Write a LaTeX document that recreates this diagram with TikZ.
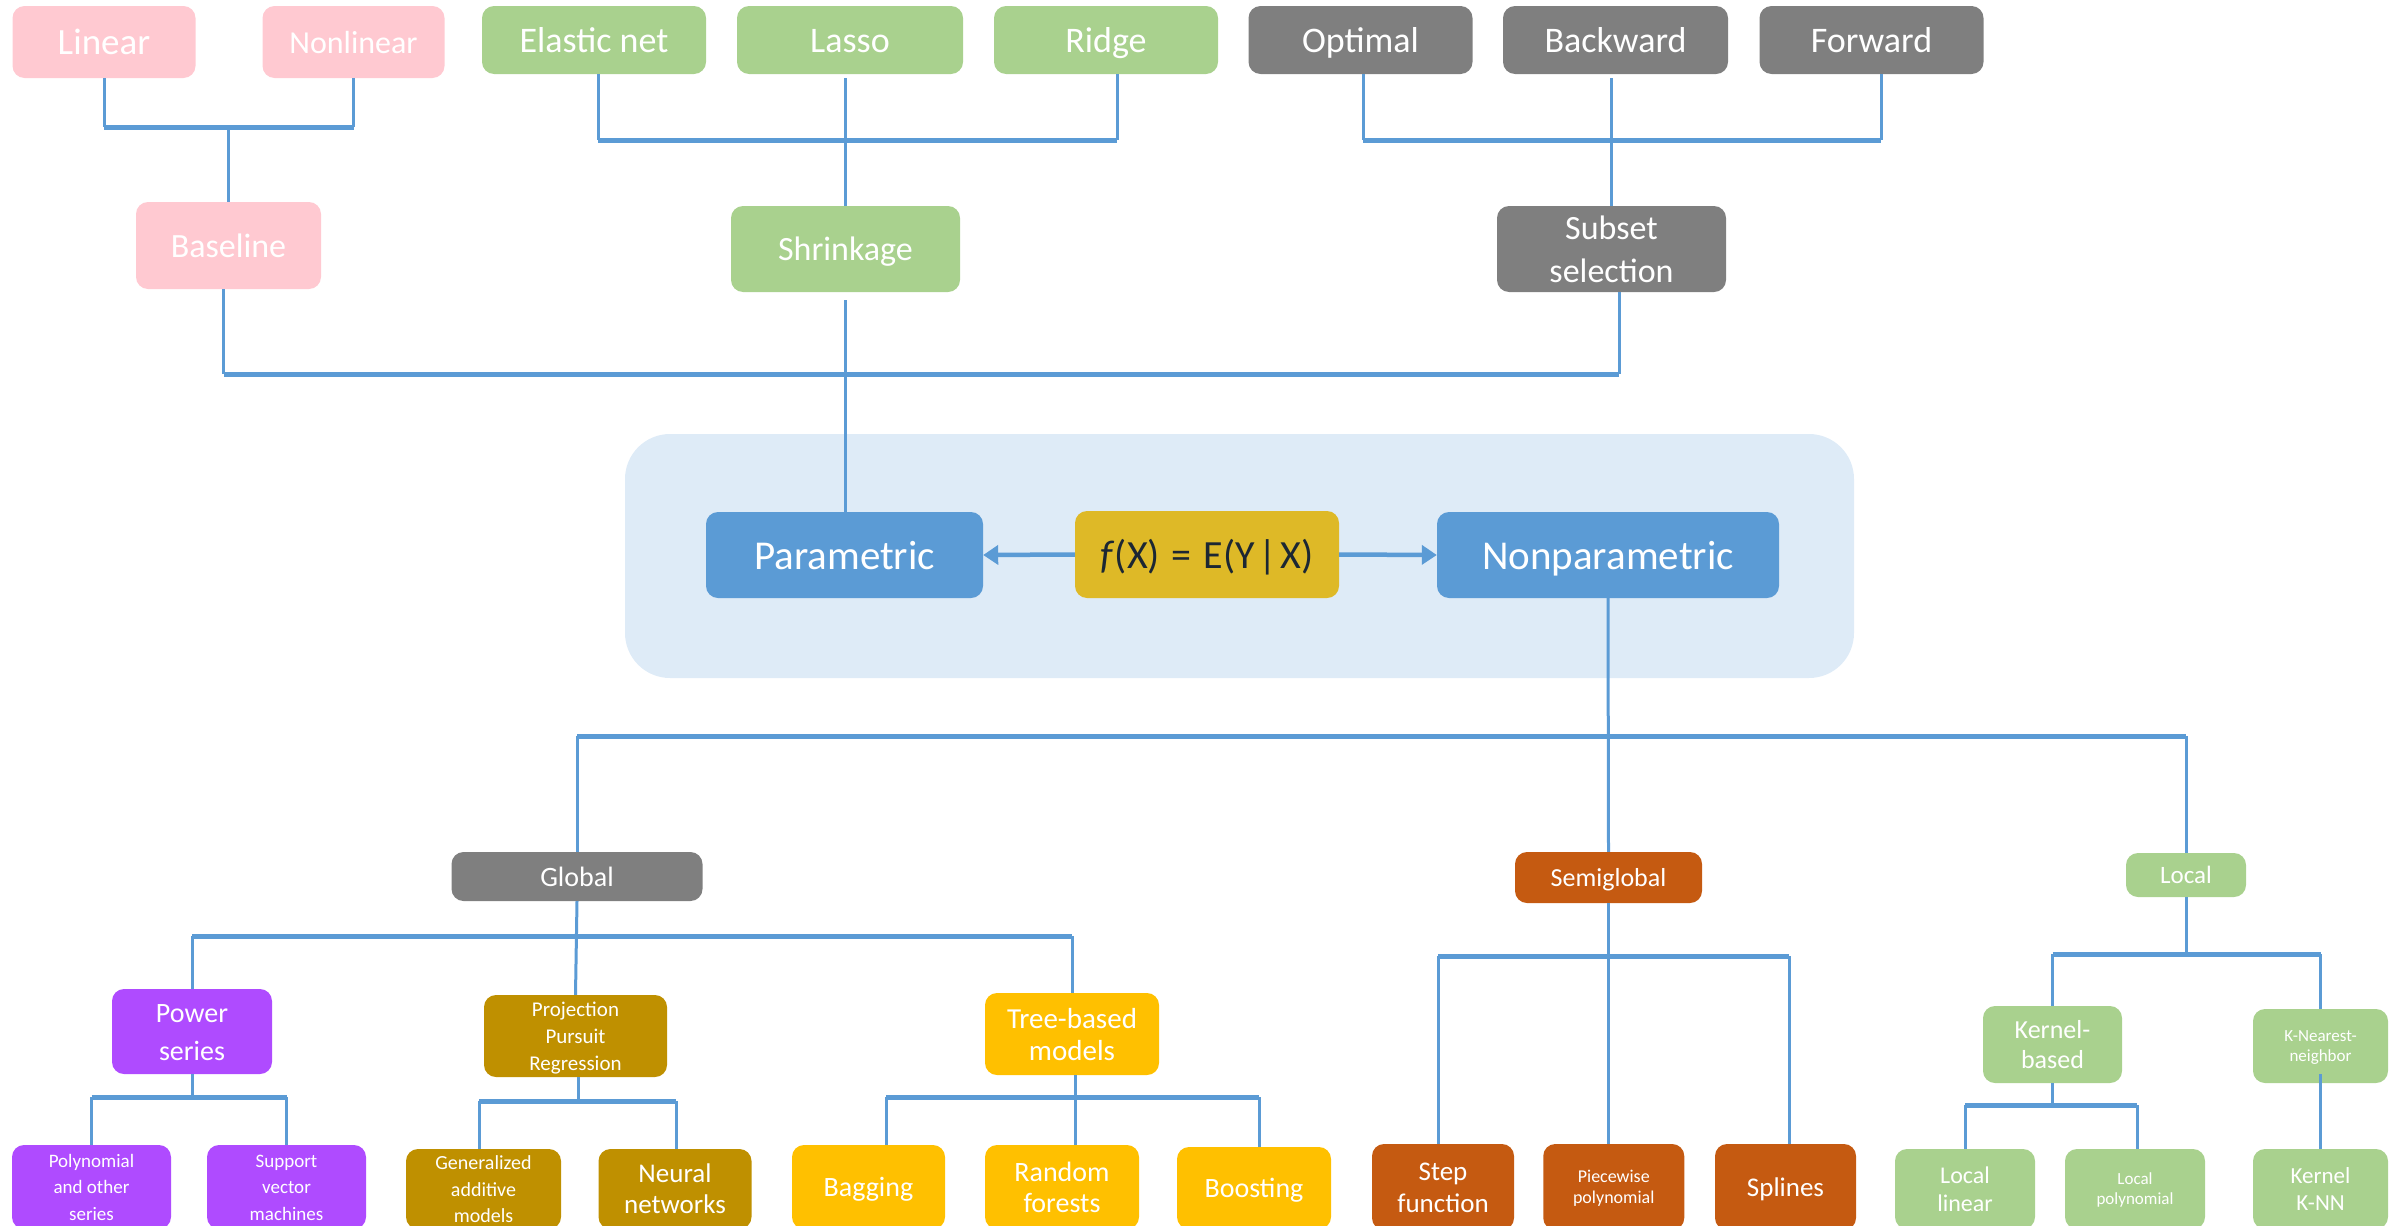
\documentclass[tikz,border=0pt]{standalone}
\usepackage{fontspec}
\setmainfont{Carlito}
\usetikzlibrary{arrows.meta}
\definecolor{pinkc}{HTML}{FFC9D1}
\definecolor{greenc}{HTML}{A9D18E}
\definecolor{grayc}{HTML}{7F7F7F}
\definecolor{bluec}{HTML}{5B9BD5}
\definecolor{lineblue}{HTML}{5B9BD5}
\definecolor{bgc}{HTML}{DEEBF7}
\definecolor{fxc}{HTML}{DEB927}
\definecolor{orangec}{HTML}{C55A11}
\definecolor{dgoldc}{HTML}{BF9000}
\definecolor{yellowc}{HTML}{FFC000}
\definecolor{purplec}{HTML}{AF4BFF}
\definecolor{darktext}{HTML}{1C2733}
\newcommand\myhs{\rule{0pt}{0.95em}}
\newcommand\myds{\rule[-0.25em]{0pt}{0.25em}}
\tikzset{
  nbox/.style={rectangle, rounded corners=12pt, inner sep=0pt, align=center, text=white, fill=#1,
    execute at begin node=\myhs, execute at end node=\myds},
  vline/.style={draw=lineblue, line width=3pt},
  hline/.style={draw=lineblue, line width=5pt},
  arr/.style={draw=lineblue, line width=4.5pt, -{Triangle[length=15pt,width=19pt]}},
}
\begin{document}
\begin{tikzpicture}[x=1pt,y=-1pt]
\useasboundingbox (0,0) rectangle (2402,1226);
\begin{scope}
\clip (0,0) rectangle (2402,1226);
% background panel
\fill[bgc, rounded corners=45pt] (625,434) rectangle (1854,678);

% top row
\node[nbox=pinkc, minimum width=183pt, minimum height=72pt, font=\fontsize{37}{44}\selectfont] (lin) at (104,42) {Linear};
\node[nbox=pinkc, minimum width=182pt, minimum height=72pt, font=\fontsize{32}{40}\selectfont] (nonlin) at (353.5,42) {Nonlinear};
\node[nbox=greenc, minimum width=224pt, minimum height=68pt, font=\fontsize{36}{44}\selectfont] (elastic) at (594,40) {Elastic net};
\node[nbox=greenc, minimum width=226pt, minimum height=68pt, font=\fontsize{36}{44}\selectfont] (lasso) at (850,40) {Lasso};
\node[nbox=greenc, minimum width=224pt, minimum height=68pt, font=\fontsize{36}{44}\selectfont] (ridge) at (1106,40) {Ridge};
\node[nbox=grayc, minimum width=224pt, minimum height=68pt, font=\fontsize{36}{44}\selectfont] (optimal) at (1360.5,40) {Optimal};
\node[nbox=grayc, minimum width=225pt, minimum height=68pt, font=\fontsize{36}{44}\selectfont] (backward) at (1615.5,40) {Backward};
\node[nbox=grayc, minimum width=224pt, minimum height=68pt, font=\fontsize{36}{44}\selectfont] (forward) at (1871.5,40) {Forward};

% second row
\node[nbox=pinkc, minimum width=185pt, minimum height=87pt, font=\fontsize{34}{42}\selectfont] (base) at (228.5,245.5) {Baseline};
\node[nbox=greenc, minimum width=229pt, minimum height=86pt, font=\fontsize{34}{42}\selectfont] (shrink) at (845.5,249) {Shrinkage};
\node[nbox=grayc, minimum width=229pt, minimum height=86pt, font=\fontsize{34}{43}\selectfont] (subset) at (1611.5,249) {\myhs Subset\\selection};

% central row
\node[nbox=bluec, minimum width=277pt, minimum height=86pt, font=\fontsize{41}{48}\selectfont] (param) at (844.5,555) {Parametric};
\node[nbox=fxc, text=darktext, minimum width=264pt, minimum height=87pt, font=\fontsize{40}{48}\selectfont] (fx) at (1207,554.5) {\textit{f}(X)\hspace{12pt}=\hspace{12pt}E(Y\hspace{4pt}|\hspace{3pt}X)};
\node[nbox=bluec, minimum width=342pt, minimum height=86pt, font=\fontsize{41}{48}\selectfont] (nonparam) at (1608,555) {Nonparametric};

% level 1
\node[nbox=grayc, minimum width=251pt, minimum height=49pt, font=\fontsize{28}{34}\selectfont] (global) at (577,876.5) {Global};
\node[nbox=orangec, minimum width=187pt, minimum height=51pt, font=\fontsize{26}{32}\selectfont] (semi) at (1608.5,877.5) {Semiglobal};
\node[nbox=greenc, minimum width=120pt, minimum height=44pt, font=\fontsize{25}{30}\selectfont] (local) at (2186,875) {Local};

% level 2
\node[nbox=purplec, minimum width=160pt, minimum height=85pt, font=\fontsize{28}{38}\selectfont] (power) at (192,1031.5) {\myhs Power\\series};
\node[nbox=dgoldc, minimum width=183pt, minimum height=82pt, font=\fontsize{21}{26.7}\selectfont] (ppr) at (575.5,1036) {\myhs Projection\\Pursuit\\Regression};
\node[nbox=yellowc, minimum width=174pt, minimum height=82pt, font=\fontsize{29}{32}\selectfont] (tree) at (1072,1034) {\myhs Tree-based\\models};
\node[nbox=greenc, minimum width=139pt, minimum height=77pt, font=\fontsize{26}{30}\selectfont] (kb) at (2052.5,1044.5) {\myhs Kernel-\\based};
\node[nbox=greenc, minimum width=135pt, minimum height=74pt, font=\fontsize{17}{20}\selectfont] (knn) at (2320.5,1046) {\myhs K-Nearest-\\neighbor};

% bottom row
\node[nbox=purplec, minimum width=159pt, minimum height=84pt, font=\fontsize{19}{26.5}\selectfont] (poly) at (91.5,1187) {\myhs Polynomial\\and other\\series};
\node[nbox=purplec, minimum width=159pt, minimum height=84pt, font=\fontsize{19}{26.5}\selectfont] (svm) at (286.5,1187) {\myhs Support\\vector\\machines};
\node[nbox=dgoldc, minimum width=155pt, minimum height=80pt, font=\fontsize{20}{26.7}\selectfont] (gam) at (483.5,1189) {\myhs Generalized\\additive\\models};
\node[nbox=dgoldc, minimum width=153pt, minimum height=80pt, font=\fontsize{27}{31}\selectfont] (nn) at (675,1189) {\myhs Neural\\networks};
\node[nbox=yellowc, minimum width=153pt, minimum height=84pt, font=\fontsize{28}{32}\selectfont] (bag) at (868.5,1187) {Bagging};
\node[nbox=yellowc, minimum width=154pt, minimum height=84pt, font=\fontsize{28}{30.7}\selectfont] (rf) at (1062,1187) {\myhs Random\\forests};
\node[nbox=yellowc, minimum width=154pt, minimum height=82pt, font=\fontsize{28}{32}\selectfont] (boost) at (1254,1188) {Boosting};
\node[nbox=orangec, minimum width=142pt, minimum height=86pt, font=\fontsize{27}{32}\selectfont] (step) at (1443,1187) {\myhs Step\\function};
\node[nbox=orangec, minimum width=141pt, minimum height=86pt, font=\fontsize{18}{20.7}\selectfont] (piece) at (1613.75,1187) {\myhs Piecewise\\polynomial};
\node[nbox=orangec, minimum width=141pt, minimum height=86pt, font=\fontsize{27}{31}\selectfont] (splines) at (1785.5,1187) {Splines};
\node[nbox=greenc, minimum width=140pt, minimum height=80pt, font=\fontsize{24}{27.7}\selectfont] (llin) at (1965,1189) {\myhs Local\\linear};
\node[nbox=greenc, minimum width=140pt, minimum height=80pt, font=\fontsize{17}{20}\selectfont] (lpoly) at (2135,1189) {\myhs Local\\polynomial};
\node[nbox=greenc, minimum width=135pt, minimum height=80pt, font=\fontsize{23}{27.6}\selectfont] (kknn) at (2320.5,1189) {\myhs Kernel\\K-NN};

% ---- connectors: baseline group
\coordinate (busA) at (228,127);
\draw[vline] (lin.south) -- (lin.south |- busA);
\draw[vline] (nonlin.south) -- (nonlin.south |- busA);
\draw[hline] (lin.south |- busA) -- (nonlin.south |- busA);
\draw[vline] (base.north |- busA) -- (base.north);

% shrinkage group
\coordinate (busB) at (846,140);
\draw[vline] ([xshift=4pt]elastic.south) -- ([xshift=4pt]elastic.south |- busB);
\draw[vline] ([xshift=11pt]ridge.south) -- ([xshift=11pt]ridge.south |- busB);
\draw[hline] ([xshift=4pt]elastic.south |- busB) -- ([xshift=11pt]ridge.south |- busB);
\draw[vline] ([yshift=-4pt]lasso.south -| shrink.north) -- (shrink.north);

% subset group
\coordinate (busC) at (1612,140);
\draw[vline] ([xshift=2.5pt]optimal.south) -- ([xshift=2.5pt]optimal.south |- busC);
\draw[vline] ([xshift=9.5pt]forward.south) -- ([xshift=9.5pt]forward.south |- busC);
\draw[hline] ([xshift=2.5pt]optimal.south |- busC) -- ([xshift=9.5pt]forward.south |- busC);
\draw[vline] ([yshift=-4pt]backward.south -| subset.north) -- (subset.north);

% lower bus to parametric
\coordinate (busD) at (845,374);
\draw[vline] ([xshift=-5pt]base.south) -- ([xshift=-5pt]base.south |- busD);
\draw[vline] ([xshift=7.5pt]subset.south) -- ([xshift=7.5pt]subset.south |- busD);
\draw[hline] ([xshift=-5pt]base.south |- busD) -- ([xshift=7.5pt]subset.south |- busD);
\draw[vline] ([yshift=-8pt]shrink.south) -- (shrink.south |- param.north);

% arrows
\draw[arr] (fx.west) -- (param.east);
\draw[arr] (fx.east) -- (nonparam.west);

% nonparametric tree
\coordinate (busE) at (1608,736);
\draw[vline] (nonparam.south) -- (semi.north);
\draw[vline] (global.north |- busE) -- (global.north);
\draw[vline] (local.north |- busE) -- (local.north);
\draw[hline] (global.north |- busE) -- (local.north |- busE);

% global children
\coordinate (busF) at (577,936);
\draw[vline] (global.south) -- (ppr.north);
\draw[vline] (power.north |- busF) -- (power.north);
\draw[vline] (tree.north |- busF) -- (tree.north);
\draw[hline] (power.north |- busF) -- (tree.north |- busF);

% power children
\coordinate (busG) at (192,1097);
\draw[vline] (power.south) -- (power.south |- busG);
\draw[vline] (poly.north |- busG) -- (poly.north);
\draw[vline] (svm.north |- busG) -- (svm.north);
\draw[hline] (poly.north |- busG) -- (svm.north |- busG);

% ppr children
\coordinate (busH) at (578,1101);
\draw[vline] ([xshift=3pt]ppr.south) -- ([xshift=3pt]ppr.south |- busH);
\draw[vline] ([xshift=-4.5pt]gam.north |- busH) -- ([xshift=-4.5pt]gam.north);
\draw[vline] ([xshift=1pt]nn.north |- busH) -- ([xshift=1pt]nn.north);
\draw[hline] ([xshift=-4.5pt]gam.north |- busH) -- ([xshift=1pt]nn.north |- busH);

% tree children
\coordinate (busI) at (1075,1097);
\draw[vline] ([xshift=3pt]tree.south) -- ([xshift=3pt]tree.south |- busI);
\draw[vline] ([xshift=17.5pt]bag.north |- busI) -- ([xshift=17.5pt]bag.north);
\draw[vline] ([xshift=13pt]rf.north |- busI) -- ([xshift=13pt]rf.north);
\draw[vline] ([xshift=5pt]boost.north |- busI) -- ([xshift=5pt]boost.north);
\draw[hline] ([xshift=17.5pt]bag.north |- busI) -- ([xshift=5pt]boost.north |- busI);

% semiglobal children
\coordinate (busJ) at (1608.5,956);
\draw[vline] (semi.south) -- (semi.south |- busJ);
\draw[vline] ([xshift=-5pt]step.north |- busJ) -- ([xshift=-5pt]step.north);
\draw[vline] ([xshift=-5pt]piece.north |- busJ) -- ([xshift=-5pt]piece.north);
\draw[vline] ([xshift=3.5pt]splines.north |- busJ) -- ([xshift=3.5pt]splines.north);
\draw[hline] ([xshift=-5pt]step.north |- busJ) -- ([xshift=3.5pt]splines.north |- busJ);

% local children
\coordinate (busK) at (2186,954);
\draw[vline] (local.south) -- (local.south |- busK);
\draw[vline] (kb.north |- busK) -- (kb.north);
\draw[vline] (knn.north |- busK) -- (knn.north);
\draw[hline] (kb.north |- busK) -- (knn.north |- busK);

% kernel-based children
\coordinate (busL) at (2052,1105);
\draw[vline] (kb.south) -- (kb.south |- busL);
\draw[vline] (llin.north |- busL) -- (llin.north);
\draw[vline] ([xshift=2pt]lpoly.north |- busL) -- ([xshift=2pt]lpoly.north);
\draw[hline] (llin.north |- busL) -- ([xshift=2pt]lpoly.north |- busL);

% knn child
\draw[vline] ([yshift=9pt]knn.south) -- (kknn.north);
\end{scope}
\end{tikzpicture}
\end{document}
